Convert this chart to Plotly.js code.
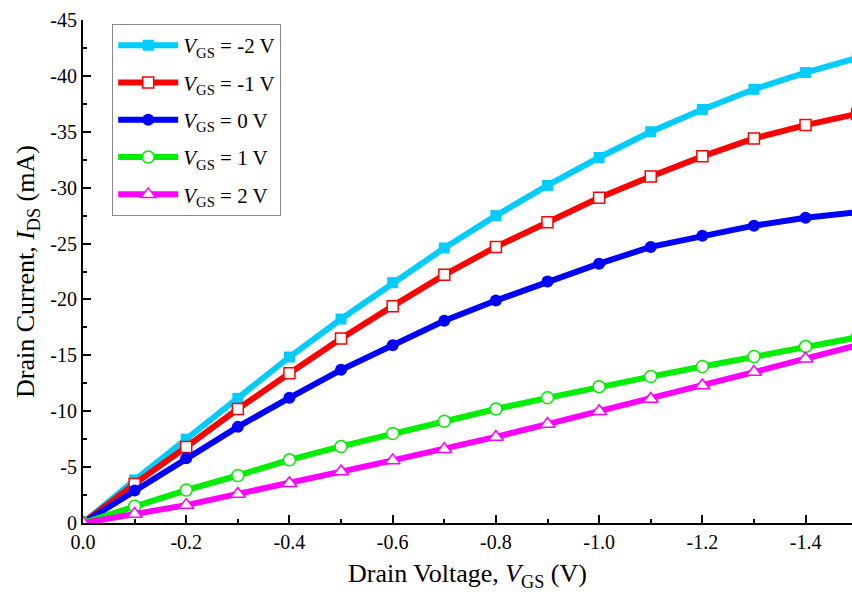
<!DOCTYPE html>
<html>
<head>
<meta charset="utf-8">
<script src="https://cdn.plot.ly/plotly-3.0.1.min.js"></script>
<style>html,body{margin:0;padding:0;background:#fff;}#chart{width:852px;height:597px;}</style>
</head>
<body>
<div id="chart"></div>
<script>
// Drain voltage (V)
const vds = [0, -0.1, -0.2, -0.3, -0.4, -0.5, -0.6, -0.7, -0.8, -0.9, -1.0, -1.1, -1.2, -1.3, -1.4, -1.5];
// Drain current (mA) for each gate voltage
const id_m2 = [0, -3.85, -7.5, -11.15, -14.85, -18.25, -21.5, -24.6, -27.5, -30.2, -32.7, -35.0, -37.0, -38.8, -40.3, -41.6];
const id_m1 = [0, -3.5, -6.8, -10.2, -13.4, -16.5, -19.4, -22.2, -24.7, -26.9, -29.1, -31.0, -32.8, -34.4, -35.6, -36.6];
const id_0  = [0, -2.9, -5.8, -8.6, -11.2, -13.7, -15.9, -18.1, -19.9, -21.6, -23.2, -24.7, -25.7, -26.6, -27.3, -27.8];
const id_p1 = [0, -1.5, -2.95, -4.25, -5.65, -6.85, -8.0, -9.1, -10.2, -11.2, -12.2, -13.1, -14.0, -14.9, -15.8, -16.6];
const id_p2 = [0, -0.8, -1.6, -2.6, -3.55, -4.6, -5.6, -6.6, -7.7, -8.85, -10.0, -11.1, -12.3, -13.5, -14.7, -15.9];
const names = ["-2", "-1", "0", "1", "2"];

const xTickVals = [0, -0.2, -0.4, -0.6, -0.8, -1.0, -1.2, -1.4];
const xTickText = ["0.0", "-0.2", "-0.4", "-0.6", "-0.8", "-1.0", "-1.2", "-1.4"];
const yTickVals = [0, -5, -10, -15, -20, -25, -30, -35, -40, -45];
const yTickText = ["0", "-5", "-10", "-15", "-20", "-25", "-30", "-35", "-40", "-45"];

const serif = "Liberation Serif, Times New Roman, serif";
function nm(v){ return "<i>V</i><sub>GS</sub> = " + v + " V"; }

const traces = [
  {y: id_m2, color: "#00CCFF", marker: {symbol: "square", size: 11, color: "#00CCFF"}},
  {y: id_m1, color: "#FF0000", marker: {symbol: "square", size: 11, color: "#FFFFFF", line: {color: "#FF0000", width: 1.5}}},
  {y: id_0,  color: "#0000FF", marker: {symbol: "circle", size: 12, color: "#0000FF"}},
  {y: id_p1, color: "#00EE00", marker: {symbol: "circle", size: 12, color: "#FFFFFF", line: {color: "#00EE00", width: 1.5}}},
  {y: id_p2, color: "#FF00FF", marker: {symbol: "triangle-up", size: 13, color: "#FFFFFF", line: {color: "#FF00FF", width: 1.5}}}
].map((t, i) => ({
  type: "scatter", mode: "lines+markers", x: vds, y: t.y, name: nm(names[i]),
  legendgroup: "g" + i,
  line: {color: t.color, width: 6}, marker: t.marker
}));

const axisCommon = {
  showline: true, linecolor: "#000", linewidth: 2, mirror: false,
  ticks: "inside", ticklen: 8, tickwidth: 2, tickcolor: "#000",
  showgrid: false, zeroline: false,
  tickfont: {family: serif, size: 20, color: "#000"},
  tickmode: "array"
};

const layout = {
  width: 852, height: 597,
  margin: {l: 83, r: 0, t: 20, b: 74},
  paper_bgcolor: "#fff", plot_bgcolor: "#fff",
  showlegend: true,
  xaxis: Object.assign({}, axisCommon, {
    range: [0, -1.49], tickvals: xTickVals, ticktext: xTickText,
    minor: {ticks: "inside", ticklen: 4, tickwidth: 2, tickcolor: "#000", tickvals: [-0.1, -0.3, -0.5, -0.7, -0.9, -1.1, -1.3]},
    title: {text: "Drain Voltage, <i>V</i><sub>GS</sub> (V)", font: {family: serif, size: 26, color: "#000"}, standoff: 12}
  }),
  yaxis: Object.assign({}, axisCommon, {
    range: [0, -45], tickvals: yTickVals, ticktext: yTickText,
    minor: {ticks: "inside", ticklen: 4, tickwidth: 2, tickcolor: "#000", tickvals: [-2.5, -7.5, -12.5, -17.5, -22.5, -27.5, -32.5, -37.5, -42.5]},
    title: {text: "Drain Current, <i>I</i><sub>DS</sub> (mA)", font: {family: serif, size: 26, color: "#000"}, standoff: 8}
  }),
  legend: {
    x: 0.038, y: 0.992, xanchor: "left", yanchor: "top",
    bgcolor: "#fff", bordercolor: "#888", borderwidth: 1,
    font: {family: serif, size: 21, color: "#000"},
    tracegroupgap: 7,
    itemwidth: 60
  }
};

Plotly.newPlot("chart", traces, layout, {displayModeBar: false, staticPlot: true});
</script>
</body>
</html>
